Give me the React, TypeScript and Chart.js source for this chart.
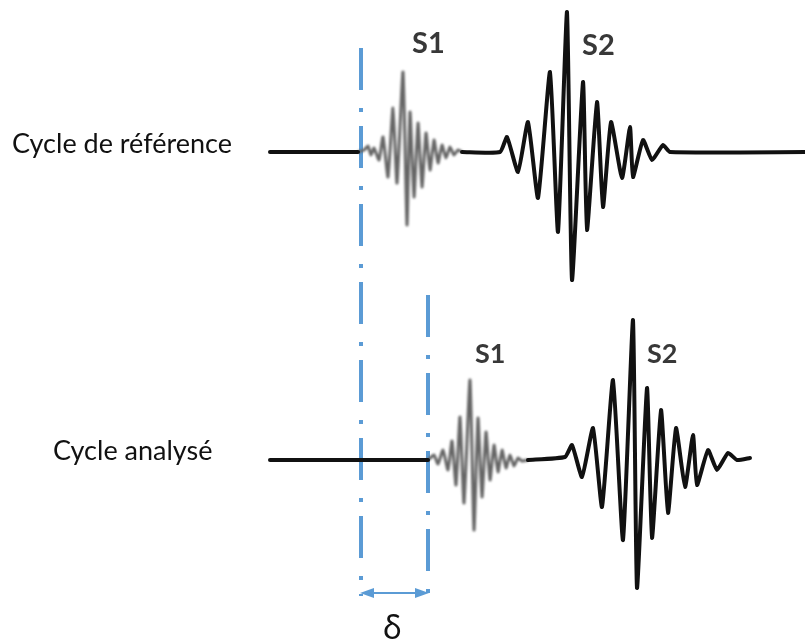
import React, { useEffect, useRef } from "react";
import { Chart, registerables } from "chart.js";

Chart.register(...registerables);

// ---- Data (time in arbitrary units, amplitude in arbitrary units, + = up) ----
const refLevel = 489; // vertical level of the reference cycle trace
const anaLevel = 181; // vertical level of the analysed cycle trace

// Reference cycle: flat lead, S1 (light, high frequency), S2 (strong)
const refLeadT = [270, 358];
const refLeadA = [0, 0];
const refS1T = [358, 364, 368, 371, 374, 379, 383, 388, 393, 397, 403, 407, 410, 414, 418, 422, 426, 430, 434, 438, 442, 446, 450, 454, 458, 462];
const refS1A = [0, 2, 6, -3, 4, -8, 15, -25, 44, -31, 80, -73, 40, -45, 29, -35, 19, -18, 12, -11, 7, -6, 5, -3, 2, 0];
const refS2T = [462, 500, 507, 518, 528, 538, 550, 558, 567, 572, 583, 587, 597, 603, 611, 622, 630, 633, 643, 652, 663, 670, 805];
const refS2A = [0, 0, 15, -20, 30, -46, 80, -80, 140, -128, 70, -78, 50, -55, 30, -26, 25, -25, 12, -8, 7, 0, 0];

// Analysed cycle: delayed by delta
const anaLeadT = [270, 428];
const anaLeadA = [0, 0];
const anaS1T = [428, 434, 438, 443, 448, 452, 456, 460, 464, 470, 474, 478, 482, 486, 490, 494, 498, 502, 506, 510, 514, 518, 522, 528];
const anaS1A = [0, 5, -4, 10, -10, 19, -25, 43, -43, 80, -70, 42, -37, 28, -20, 15, -12, 10, -8, 5, -6, 2, -1, 0];
const anaS2T = [528, 565, 572, 582, 593, 602, 613, 623, 633, 637, 647, 652, 661, 668, 676, 685, 693, 697, 708, 717, 728, 737, 750];
const anaS2A = [0, 3, 15, -17, 32, -47, 80, -80, 140, -128, 72, -78, 50, -53, 32, -27, 25, -25, 10, -10, 7, 0, 2];

// Markers (dash-dot onset lines) and delay delta
const markerT = [361, 428];
const markerTop = [593, 346];
const markerBottom = [45, 45];
const deltaLevel = 48;

// Labels
const traceLabels = ["Cycle de référence", "Cycle analysé"];
const soundLabels = ["S1", "S2"];
const deltaLabel = "δ";

const toPts = (t: number[], a: number[], level: number) =>
  t.map((x, i) => ({ x, y: level + a[i] }));

const BLUE = "#5B9BD5";

const softPlugin = {
  id: "soften",
  beforeDatasetDraw(chart: any, args: any) {
    const ds = chart.data.datasets[args.index];
    if (ds.soft) chart.ctx.filter = `blur(${ds.soft}px)`;
  },
  afterDatasetDraw(chart: any) {
    chart.ctx.filter = "none";
  },
};

const labelPlugin = {
  id: "diagramLabels",
  afterDatasetsDraw(chart: any) {
    const ctx = chart.ctx as CanvasRenderingContext2D;
    const xs = chart.scales.x;
    const ys = chart.scales.y;
    const px = (v: number) => xs.getPixelForValue(v);
    const py = (v: number) => ys.getPixelForValue(v);
    ctx.save();
    ctx.filter = "none";
    // arrow heads of delta
    const y = py(deltaLevel);
    const x0 = px(markerT[0]) - 1;
    const x1 = px(markerT[1]) + 1;
    ctx.fillStyle = BLUE;
    ctx.beginPath();
    ctx.moveTo(x0, y);
    ctx.lineTo(x0 + 14, y - 5);
    ctx.lineTo(x0 + 14, y + 5);
    ctx.closePath();
    ctx.fill();
    ctx.beginPath();
    ctx.moveTo(x1, y);
    ctx.lineTo(x1 - 14, y - 5);
    ctx.lineTo(x1 - 14, y + 5);
    ctx.closePath();
    ctx.fill();

    // trace labels
    ctx.fillStyle = "#111";
    ctx.textBaseline = "alphabetic";
    ctx.textAlign = "left";
    ctx.font = "27px Lato, 'Open Sans', sans-serif";
    ctx.fillText(traceLabels[0], 12, py(refLevel) + 1, 226);
    ctx.fillText(traceLabels[1], 53, py(anaLevel), 163);

    // S1 / S2 labels
    ctx.fillStyle = "#383838";
    ctx.font = "bold 29px Lato, 'Open Sans', sans-serif";
    ctx.fillText(soundLabels[0], 412, 53);
    ctx.fillText(soundLabels[1], 582, 55);
    ctx.font = "bold 27px Lato, 'Open Sans', sans-serif";
    ctx.fillText(soundLabels[0], 475, 363);
    ctx.fillText(soundLabels[1], 647, 363);

    // delta
    ctx.fillStyle = "#111";
    ctx.textAlign = "center";
    ctx.font = "32px 'Noto Sans', 'DejaVu Sans', sans-serif";
    ctx.fillText(deltaLabel, (x0 + x1) / 2 - 2, 639);
    ctx.restore();
  },
};

export default function App() {
  const ref = useRef<HTMLCanvasElement | null>(null);
  useEffect(() => {
    document.body.style.margin = "0";
    document.body.style.background = "#fff";
    const canvas = ref.current!;
    const black = { borderColor: "#111", borderWidth: 4, showLine: true, pointRadius: 0, borderJoinStyle: "round" as const, borderCapStyle: "round" as const, tension: 0.15, soft: 0.5 };
    const gray = { borderColor: "#666", borderWidth: 3, showLine: true, pointRadius: 0, borderJoinStyle: "round" as const, tension: 0.15, soft: 0.9 };
    const marker = { borderColor: BLUE, borderWidth: 4, showLine: true, pointRadius: 0, borderDash: [42, 18, 4, 14], borderCapStyle: "butt" as const };
    const chart = new Chart(canvas, {
      type: "scatter",
      data: {
        datasets: [
          { ...black, data: toPts(refLeadT, refLeadA, refLevel) },
          { ...black, data: toPts(refS2T, refS2A, refLevel) },
          { ...gray, data: toPts(refS1T, refS1A, refLevel) },
          { ...black, data: toPts(anaLeadT, anaLeadA, anaLevel) },
          { ...black, data: toPts(anaS2T, anaS2A, anaLevel) },
          { ...gray, data: toPts(anaS1T, anaS1A, anaLevel) },
          { ...marker, data: [{ x: markerT[0], y: markerTop[0] }, { x: markerT[0], y: markerBottom[0] }] },
          { ...marker, data: [{ x: markerT[1], y: markerTop[1] }, { x: markerT[1], y: markerBottom[1] }] },
          { borderColor: BLUE, borderWidth: 2, showLine: true, pointRadius: 0, data: [{ x: markerT[0] + 4, y: deltaLevel }, { x: markerT[1] - 4, y: deltaLevel }] },
        ] as any,
      },
      options: {
        responsive: false,
        animation: false,
        layout: { padding: 0 },
        plugins: { legend: { display: false }, tooltip: { enabled: false } },
        scales: {
          x: { type: "linear", min: 0, max: 805, display: false },
          y: { type: "linear", min: 0, max: 641, display: false },
        },
      },
      plugins: [softPlugin, labelPlugin],
    });
    (document as any).fonts?.load?.("27px Lato").then(() => chart.draw()).catch(() => {});
    return () => chart.destroy();
  }, []);
  return <canvas ref={ref} width={805} height={641} style={{ display: "block" }} />;
}
